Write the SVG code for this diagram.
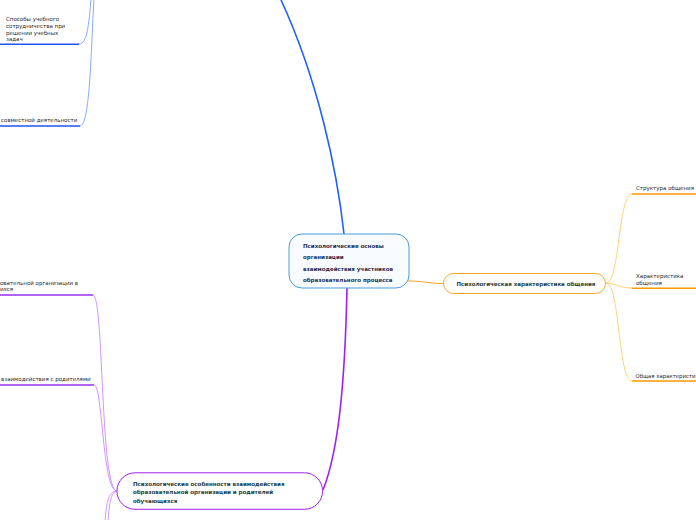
<svg xmlns="http://www.w3.org/2000/svg" width="696" height="520" viewBox="0 0 696 520">
<style>
.t{font-family:"DejaVu Sans",Verdana,sans-serif;font-size:5.5px;fill:#2a2a2a}
.b{font-family:"DejaVu Sans",Verdana,sans-serif;font-size:5.5px;font-weight:bold}
.thinB{fill:none;stroke:#7aa0ff;stroke-width:0.9}
.ulB{fill:none;stroke:#1d55f0;stroke-width:1.6}
.thinO{fill:none;stroke:#ffcc70;stroke-width:0.9}
.ulO{fill:none;stroke:#ff9a00;stroke-width:1.6}
.thinP{fill:none;stroke:#cc88ff;stroke-width:0.9}
.ulP{fill:none;stroke:#9a2ff0;stroke-width:1.6}
</style>
<rect width="696" height="520" fill="#ffffff"/>
<g id="connectors">
<path d="M344,234 C337,170 318,80 281,0" fill="none" stroke="#2060ff" stroke-width="1.6"/>
<path d="M347,288 C345,380 339,450 323,490" fill="none" stroke="#a020f0" stroke-width="1.6"/>
<path d="M408,281 C425,281 428,283.5 443,283.5" fill="none" stroke="#f5a623" stroke-width="1"/>
<path d="M91,-2 C89,25 87,44 79,44" class="thinB"/>
<path d="M94,-2 C91,50 90,126 80,126" class="thinB"/>
<path d="M606,283 C620,283 618,194 632,194" class="thinO"/>
<path d="M606,283 C616,283 618,288 632,288" class="thinO"/>
<path d="M606,283 C620,283 618,381 632,381" class="thinO"/>
<path d="M117,491 C100,491 104,295 93,295" class="thinP"/>
<path d="M117,491 C102,491 103,385 94,385" class="thinP"/>
<path d="M117,491 C108,491 106,505 105,522" class="thinP"/>
<path d="M117,491 C111,491 109,505 108,522" class="thinP"/>
</g>
<g id="n-blue1">
<path d="M0,44.3 H79" class="ulB"/>
<text class="t" x="6" y="21">Способы учебного</text>
<text class="t" x="6" y="27.8">сотрудничества при</text>
<text class="t" x="6" y="34.6">решении учебных</text>
<text class="t" x="6" y="41.4">задач</text>
</g>
<g id="n-blue2">
<path d="M0,126 H80" class="ulB"/>
<text class="t" x="1" y="122">совместной деятельности</text>
</g>
<g id="n-root">
<rect x="289" y="234" width="120" height="54" rx="13" fill="#f9fcff" stroke="#4a9ad8" stroke-width="1"/>
<text class="b" x="303" y="248" fill="#1f2d4f">Психологические основы</text>
<text class="b" x="303" y="259.3" fill="#1f2d4f">организации</text>
<text class="b" x="303" y="271" fill="#1f2d4f">взаимодействия участников</text>
<text class="b" x="303" y="282" fill="#1f2d4f">образовательного процесса</text>
</g>
<g id="n-orange">
<rect x="443.5" y="273.5" width="162" height="20" rx="10" fill="#ffffff" stroke="#f5a623" stroke-width="1"/>
<text class="b" x="456.5" y="286" fill="#1b3d3b">Психологическая характеристика общения</text>
</g>
<g id="n-o1">
<path d="M632,194 H696" class="ulO"/>
<text class="t" x="636" y="190">Структура общения</text>
</g>
<g id="n-o2">
<path d="M632,288.3 H696" class="ulO"/>
<text class="t" x="636" y="278">Характеристика</text>
<text class="t" x="636" y="284.5">общения</text>
</g>
<g id="n-o3">
<path d="M632,381 H696" class="ulO"/>
<text class="t" x="635.5" y="377.5" textLength="60" lengthAdjust="spacingAndGlyphs">Общая характеристи</text>
</g>
<g id="n-purple">
<rect x="117" y="472.8" width="205.5" height="36.5" rx="18" fill="#ffffff" stroke="#a020f0" stroke-width="1"/>
<text class="b" x="133" y="485.5" fill="#1b3d3b">Психологические особенности взаимодействия</text>
<text class="b" x="133" y="494.3" fill="#1b3d3b">образовательной организации и родителей</text>
<text class="b" x="133" y="502.8" fill="#1b3d3b">обучающихся</text>
</g>
<g id="n-p1">
<path d="M0,295 H93" class="ulP"/>
<text class="t" x="0" y="284.5">овательной организации в</text>
<text class="t" x="0" y="291.2">ихся</text>
</g>
<g id="n-p2">
<path d="M0,385 H94" class="ulP"/>
<text class="t" x="1" y="381">взаимодействия с родителями</text>
</g>
</svg>
